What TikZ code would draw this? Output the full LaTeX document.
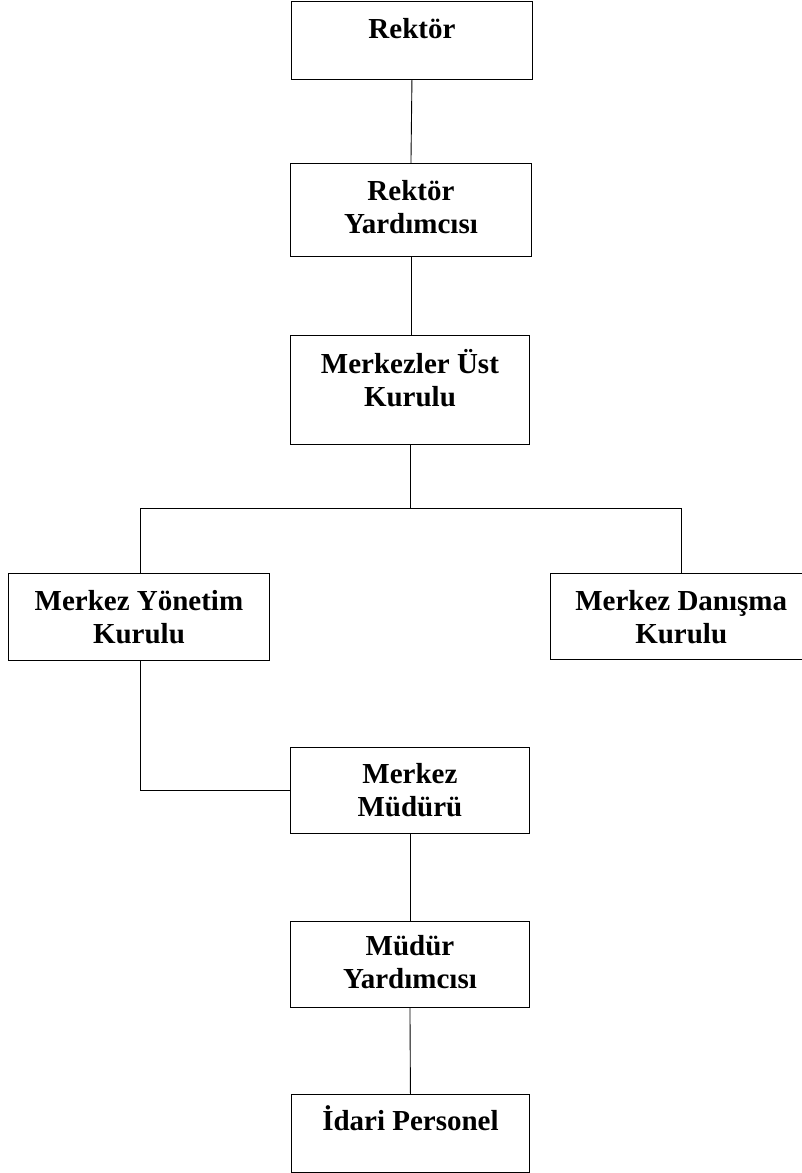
\documentclass[tikz,border=0pt]{standalone}
\usepackage{fontspec}
\setmainfont{Liberation Serif}
% fixed-size cell: width, height, space above first line, text
\newcommand\cellbox[4]{\parbox[c][#2pt][t]{#1pt}{\centering\vspace*{#3pt}\strut #4}}
\begin{document}
\begin{tikzpicture}[x=1pt,y=-1pt,
  box/.style={draw, line width=0.9pt, inner sep=0pt, anchor=north west,
    font=\bfseries\fontsize{29}{33}\selectfont},
  conn/.style={line width=0.9pt}]
\useasboundingbox (0,0) rectangle (802,1173);

\node[box] (A) at (291,0.6)  {\cellbox{241}{78.4}{14}{Rektör}};
\node[box] (B) at (290,163)  {\cellbox{241}{93}{14}{Rektör\\Yardımcısı}};
\node[box] (C) at (290,335)  {\cellbox{239}{109}{14}{Merkezler Üst\\Kurulu}};
\node[box] (D) at (8,573)    {\cellbox{261}{87}{14}{Merkez Yönetim\\Kurulu}};
\node[box] (E) at (550,573)  {\parbox[c][86pt][t]{251.5pt}{\centering\rightskip=-10pt plus 1fil\vspace*{14pt}\strut Merkez Danışma\\Kurulu}};
\node[box] (F) at (290,747)  {\cellbox{239}{86}{13}{Merkez\\Müdürü}};
\node[box] (G) at (290,921)  {\cellbox{239}{86}{11}{Müdür\\Yardımcısı}};
\node[box] (H) at (291,1094) {\cellbox{238}{78}{11}{İdari Personel}};

\coordinate (split) at (410.7,508);
\coordinate (ljoin) at (140,508);
\coordinate (rjoin) at (681,508);

\draw[conn] (A.south) -- (B.north);
\draw[conn] (B.south) -- (B.south |- C.north);
\draw[conn] (split |- C.south) -- (split);
\draw[conn] (ljoin) -- (rjoin);
\draw[conn] (ljoin) -- (ljoin |- D.north);
\draw[conn] (rjoin) -- (rjoin |- E.north);
\draw[conn] (ljoin |- D.south) |- (F.west);
\draw[conn] (F.south) -- (F.south |- G.north);
\draw[conn] (G.south) -- (H.north);
\end{tikzpicture}
\end{document}
